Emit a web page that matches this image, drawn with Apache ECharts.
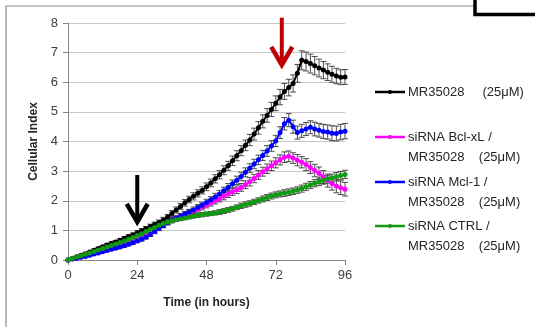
<!DOCTYPE html>
<html><head><meta charset="utf-8">
<script src="https://cdn.jsdelivr.net/npm/echarts@6/dist/echarts.min.js"></script>
<style>html,body{margin:0;padding:0;background:#fff}#c{width:535px;height:327px}</style>
</head><body><div id="c"></div>
<script>
const times = [0,1.5,3,4.5,6,7.5,9,10.5,12,13.5,15,16.5,18,19.5,21,22.5,24,25.5,27,28.5,30,31.5,33,34.5,36,37.5,39,40.5,42,43.5,45,46.5,48,49.5,51,52.5,54,55.5,57,58.5,60,61.5,63,64.5,66,67.5,69,70.5,72,73.5,75,76.5,78,79.5,81,82.5,84,85.5,87,88.5,90,91.5,93,94.5,96];

const mr35028 = [0,0.06,0.11,0.16,0.21,0.27,0.33,0.39,0.45,0.51,
 0.56,0.61,0.67,0.73,0.79,0.85,0.92,0.99,1.06,1.13,
 1.20,1.27,1.35,1.45,1.57,1.69,1.81,1.93,2.04,2.15,
 2.25,2.35,2.47,2.60,2.74,2.88,3.03,3.18,3.35,3.52,
 3.69,3.87,4.05,4.25,4.46,4.68,4.88,5.08,5.29,5.50,
 5.69,5.82,5.96,6.30,6.74,6.70,6.63,6.56,6.48,6.41,
 6.34,6.27,6.21,6.17,6.18];
const mr35028Err = [0,0.02,0.02,0.03,0.03,0.03,0.04,0.04,0.04,0.05,
 0.05,0.05,0.05,0.06,0.06,0.06,0.07,0.07,0.07,0.08,
 0.08,0.08,0.09,0.09,0.10,0.10,0.10,0.11,0.11,0.12,
 0.12,0.12,0.13,0.13,0.14,0.14,0.15,0.15,0.16,0.17,
 0.17,0.18,0.19,0.20,0.21,0.22,0.23,0.24,0.25,0.26,
 0.27,0.28,0.29,0.30,0.32,0.32,0.32,0.31,0.30,0.29,
 0.28,0.27,0.26,0.25,0.25];

const bclxl = [0,0.03,0.06,0.10,0.13,0.17,0.21,0.25,0.29,0.33,
 0.37,0.41,0.45,0.50,0.55,0.60,0.66,0.72,0.79,0.87,
 0.97,1.07,1.17,1.27,1.35,1.41,1.47,1.53,1.59,1.65,
 1.72,1.79,1.86,1.93,2.00,2.07,2.15,2.23,2.30,2.37,
 2.45,2.54,2.64,2.75,2.87,2.98,3.08,3.18,3.28,3.38,
 3.47,3.50,3.44,3.37,3.30,3.22,3.12,3.02,2.93,2.80,
 2.68,2.58,2.50,2.44,2.39];
const bclxlErr = [0,0.01,0.02,0.02,0.02,0.03,0.03,0.03,0.03,0.04,
 0.04,0.04,0.04,0.05,0.05,0.05,0.05,0.06,0.06,0.06,
 0.06,0.07,0.07,0.07,0.08,0.08,0.08,0.09,0.09,0.09,
 0.10,0.10,0.10,0.11,0.11,0.11,0.12,0.12,0.12,0.13,
 0.13,0.13,0.14,0.14,0.15,0.15,0.16,0.16,0.17,0.17,
 0.18,0.18,0.18,0.19,0.19,0.20,0.20,0.21,0.21,0.22,
 0.22,0.22,0.23,0.23,0.23];

const mcl1 = [0,0.03,0.06,0.09,0.12,0.16,0.20,0.24,0.28,0.32,
 0.36,0.40,0.44,0.48,0.53,0.58,0.64,0.70,0.77,0.86,
 0.96,1.06,1.16,1.26,1.34,1.41,1.48,1.55,1.62,1.69,
 1.77,1.85,1.94,2.03,2.13,2.23,2.34,2.45,2.57,2.69,
 2.82,2.96,3.10,3.24,3.38,3.53,3.68,3.85,4.02,4.30,
 4.60,4.72,4.50,4.30,4.36,4.42,4.48,4.42,4.38,4.34,
 4.32,4.28,4.27,4.32,4.35];
const mcl1Err = [0,0.01,0.02,0.02,0.02,0.03,0.03,0.03,0.03,0.04,
 0.04,0.04,0.04,0.05,0.05,0.05,0.05,0.06,0.06,0.06,
 0.07,0.07,0.07,0.08,0.08,0.08,0.09,0.09,0.09,0.10,
 0.10,0.10,0.11,0.11,0.12,0.12,0.12,0.13,0.13,0.14,
 0.14,0.15,0.15,0.16,0.16,0.17,0.18,0.18,0.19,0.20,
 0.21,0.22,0.22,0.22,0.22,0.22,0.22,0.23,0.23,0.24,
 0.24,0.25,0.25,0.26,0.26];

const ctrl = [0,0.05,0.10,0.14,0.19,0.24,0.29,0.34,0.39,0.44,
 0.49,0.54,0.59,0.64,0.70,0.76,0.83,0.89,0.96,1.03,
 1.10,1.17,1.23,1.28,1.32,1.36,1.39,1.42,1.45,1.48,
 1.51,1.53,1.55,1.57,1.59,1.62,1.65,1.69,1.73,1.78,
 1.83,1.87,1.91,1.96,2.01,2.06,2.11,2.16,2.20,2.23,
 2.26,2.29,2.32,2.36,2.41,2.47,2.53,2.59,2.64,2.69,
 2.73,2.77,2.81,2.85,2.89];
const ctrlErr = [0,0.01,0.01,0.01,0.02,0.02,0.02,0.02,0.02,0.03,
 0.03,0.03,0.03,0.03,0.04,0.04,0.04,0.04,0.04,0.05,
 0.05,0.05,0.05,0.05,0.06,0.06,0.06,0.06,0.06,0.06,
 0.07,0.07,0.07,0.07,0.07,0.08,0.08,0.08,0.08,0.08,
 0.09,0.09,0.09,0.09,0.09,0.10,0.10,0.10,0.10,0.10,
 0.11,0.11,0.11,0.11,0.12,0.12,0.12,0.12,0.13,0.13,
 0.13,0.13,0.14,0.14,0.14];

const xTicks = [0,24,48,72,96];
const yTicks = [0,1,2,3,4,5,6,7,8];

// annotation arrows (time, top value, tip value)
const arrowTimes = [24, 74.1];
const arrowTop = [2.87, 8.18];
const arrowTip = [1.25, 6.55];
const arrowColors = ['#000000', '#C00000'];

const seriesDefs = [
  {name: 'MR35028', values: mr35028, errs: mr35028Err, color: '#000000', legend: ['MR35028     (25\u03bcM)']},
  {name: 'siRNA Bcl-xL', values: bclxl, errs: bclxlErr, color: '#FF00FF', legend: ['siRNA Bcl-xL /', 'MR35028    (25\u03bcM)']},
  {name: 'siRNA Mcl-1', values: mcl1, errs: mcl1Err, color: '#0000FF', legend: ['siRNA Mcl-1 /', 'MR35028    (25\u03bcM)']},
  {name: 'siRNA CTRL', values: ctrl, errs: ctrlErr, color: '#109A10', legend: ['siRNA CTRL /', 'MR35028    (25\u03bcM)']}
];
const drawOrder = [0, 1, 2, 3];
const legendY = [92, 137, 182, 226];

const FONT = 'Liberation Sans';
const chart = echarts.init(document.getElementById('c'), null, {renderer: 'canvas'});

const series = [];
drawOrder.forEach(function (k) {
  const d = seriesDefs[k];
  series.push({
    type: 'custom', name: d.name + ' err', z: 2, silent: true,
    data: times.map(function (t, i) { return [t, d.values[i], d.errs[i]]; }),
    renderItem: function (params, api) {
      const t = api.value(0), v = api.value(1), e = api.value(2);
      const p1 = api.coord([t, v + e]);
      const p2 = api.coord([t, v - e]);
      const w = 3;
      const st = {stroke: '#3a3a3a', lineWidth: 0.9};
      return {type: 'group', children: [
        {type: 'line', shape: {x1: p1[0], y1: p1[1], x2: p2[0], y2: p2[1]}, style: st},
        {type: 'line', shape: {x1: p1[0] - w, y1: p1[1], x2: p1[0] + w, y2: p1[1]}, style: st},
        {type: 'line', shape: {x1: p2[0] - w, y1: p2[1], x2: p2[0] + w, y2: p2[1]}, style: st}
      ]};
    }
  });
});
drawOrder.forEach(function (k) {
  const d = seriesDefs[k];
  series.push({
    type: 'line', name: d.name, z: 3,
    data: times.map(function (t, i) { return [t, d.values[i]]; }),
    symbol: 'circle', symbolSize: 5, showSymbol: true,
    lineStyle: {color: d.color, width: 2},
    itemStyle: {color: d.color},
    emphasis: {disabled: true}
  });
});
series.push({
  type: 'custom', name: 'arrows', z: 5, silent: true, clip: false,
  data: arrowTimes.map(function (t, i) { return [t, arrowTop[i], arrowTip[i], i]; }),
  renderItem: function (params, api) {
    const t = api.value(0);
    const top = api.coord([t, api.value(1)]);
    const tip = api.coord([t, api.value(2)]);
    const col = arrowColors[api.value(3)];
    const hw = 10.5, hh = 19;
    return {type: 'group', children: [
      {type: 'line', shape: {x1: top[0], y1: top[1], x2: tip[0], y2: tip[1] - 3}, style: {stroke: col, lineWidth: 4}},
      {type: 'polyline', shape: {points: [[tip[0] - hw, tip[1] - hh], [tip[0], tip[1] - 1], [tip[0] + hw, tip[1] - hh]]},
        style: {stroke: col, lineWidth: 4.5, fill: null, lineJoin: 'miter'}}
    ]};
  }
});

const graphics = [
  {type: 'polyline', shape: {points: [[6, 330], [6, 6], [474, 6]]}, style: {stroke: '#8a8a8a', lineWidth: 1.2, fill: null}, z: 1},
  {type: 'polyline', shape: {points: [[475, -2], [475, 14.5], [537, 14.5]]}, style: {stroke: '#000', lineWidth: 3.5, fill: null}, z: 1}
];
seriesDefs.forEach(function (d, k) {
  const y = legendY[k];
  graphics.push({type: 'line', shape: {x1: 375, y1: y, x2: 405, y2: y}, style: {stroke: d.color, lineWidth: 2.5}, z: 10});
  graphics.push({type: 'circle', shape: {cx: 390, cy: y, r: 2}, style: {fill: d.color}, z: 10});
  d.legend.forEach(function (line, j) {
    graphics.push({type: 'text', x: 408, y: y + j * 20, z: 10,
      style: {text: line, font: '13px "' + FONT + '"', fill: '#262626', verticalAlign: 'middle', align: 'left'}});
  });
});

chart.setOption({
  animation: false,
  backgroundColor: '#fff',
  grid: {left: 68, right: 190, top: 23, bottom: 67},
  xAxis: {
    type: 'value', min: 0, max: 96, interval: 24,
    name: 'Time (in hours)', nameLocation: 'middle', nameGap: 37,
    nameTextStyle: {fontFamily: FONT, fontSize: 12, fontWeight: 'bold', color: '#262626'},
    axisLine: {show: true, onZero: false, lineStyle: {color: '#868686', width: 1}},
    axisTick: {show: true, length: 5, lineStyle: {color: '#868686'}},
    axisLabel: {fontFamily: FONT, fontSize: 13, color: '#404040', margin: 9,
      formatter: function (v) { return xTicks.indexOf(v) >= 0 ? String(v) : ''; }},
    splitLine: {show: false}
  },
  yAxis: {
    type: 'value', min: 0, max: 8, interval: 1,
    name: 'Cellular Index', nameLocation: 'middle', nameGap: 27,
    nameTextStyle: {fontFamily: FONT, fontSize: 12, fontWeight: 'bold', color: '#262626'},
    axisLine: {show: true, lineStyle: {color: '#868686', width: 1}},
    axisTick: {show: true, length: 5, lineStyle: {color: '#868686'}},
    axisLabel: {fontFamily: FONT, fontSize: 13, color: '#404040', margin: 10,
      formatter: function (v) { return yTicks.indexOf(v) >= 0 ? String(v) : ''; }},
    splitLine: {show: true, lineStyle: {color: '#c6c6c6', width: 1}}
  },
  series: series,
  graphic: graphics
});
</script></body></html>
